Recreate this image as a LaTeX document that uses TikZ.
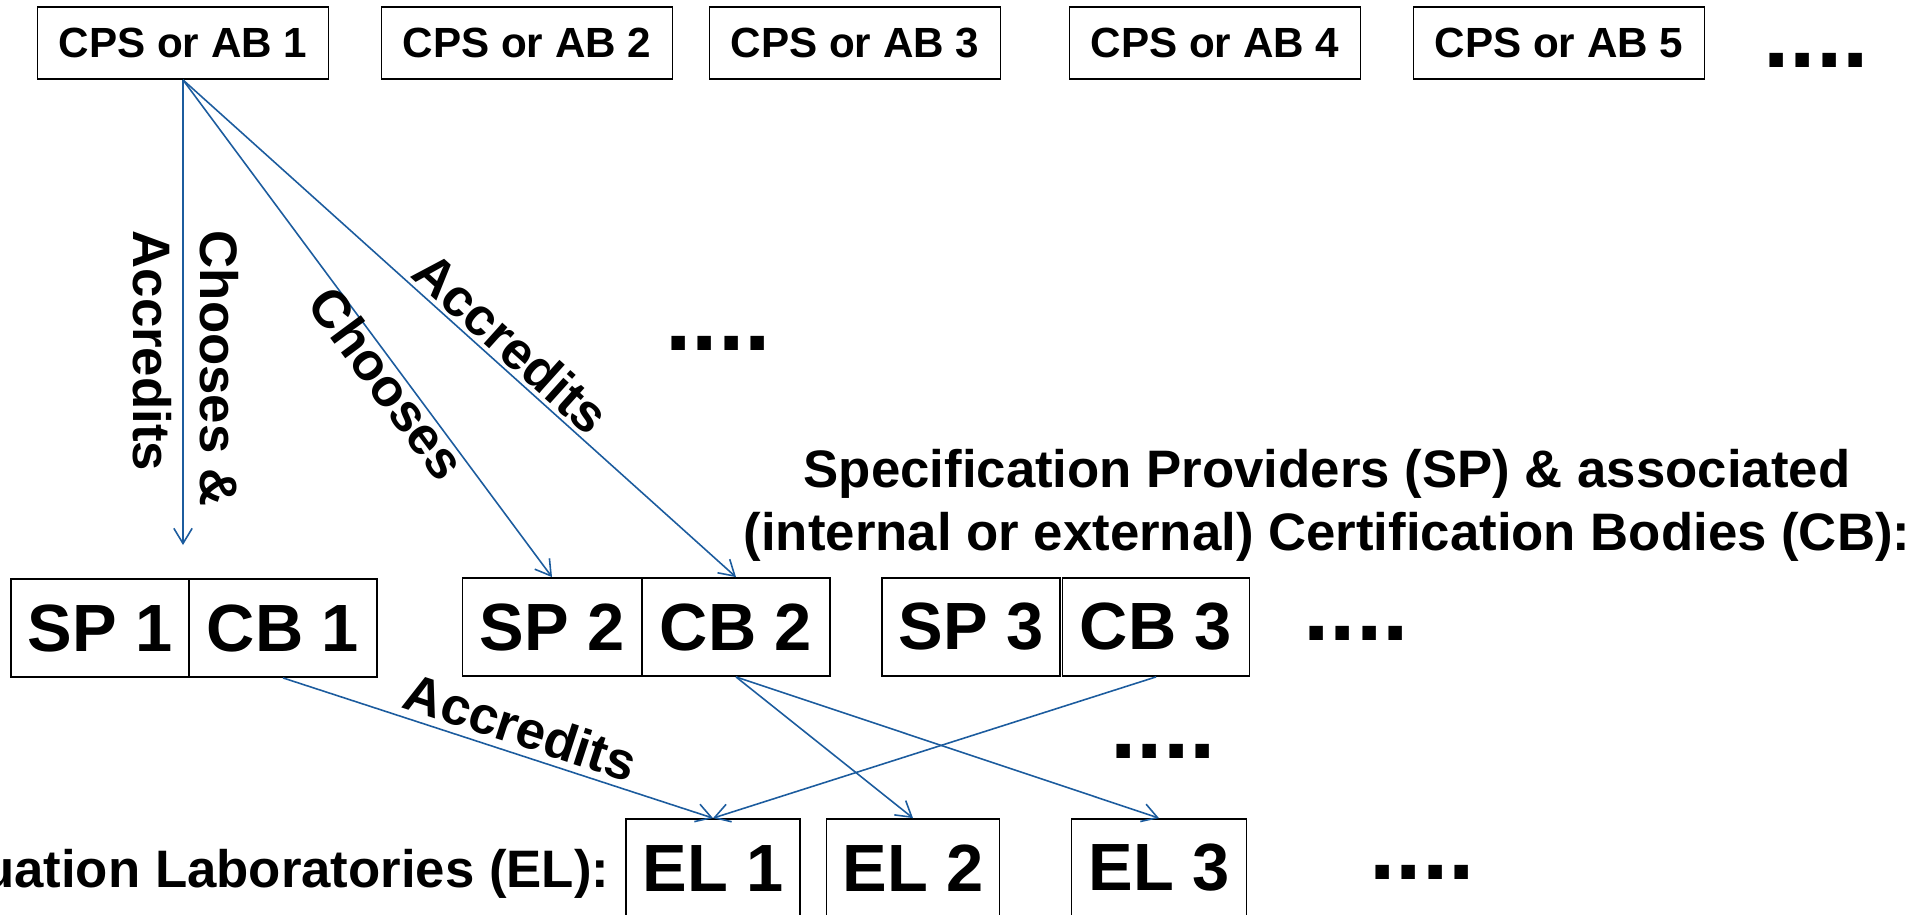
\documentclass[tikz,border=0pt]{standalone}
\usepackage{fontspec}
\setmainfont{Liberation Sans}
\usetikzlibrary{arrows.meta}
\definecolor{linkblue}{RGB}{28,92,158}

\begin{document}
\begin{tikzpicture}[x=0.01cm, y=-0.01cm,
		topbox/.style={draw, line width=0.5pt, minimum width=2.91cm, minimum height=0.72cm, inner sep=0pt, font=\fontsize{12}{14}\selectfont\bfseries},
		bigbox/.style={draw, line width=0.5pt, minimum height=0.98cm, inner sep=0pt, font=\fontsize{19}{22}\selectfont\bfseries},
		lbl/.style={font=\fontsize{15}{18}\selectfont\bfseries},
		dots/.style={anchor=base, inner sep=0pt, font=\fontsize{27}{30}\selectfont\bfseries},
		link/.style={draw=linkblue, line width=0.45pt, -{Straight Barb[length=4.3pt,width=5.2pt]}}]
		%%%%% START %%%%%
		
		\useasboundingbox (0, 0) rectangle (1925, 914);
		
		\node[topbox] (cps1) at (183, 43) {CPS or AB 1};
		\node[topbox] (cps2) at (527, 43) {CPS or AB 2};
		\node[topbox] (cps3) at (855, 43) {CPS or AB 3};
		\node[topbox] (cps4) at (1215, 43) {CPS or AB 4};
		\node[topbox] (cps5) at (1559, 43) {CPS or AB 5};
		\node[dots] (dotstop) at (1816, 67) {....};
		
		\node[dots] (dotsmid) at (718, 350) {....};
		\node[lbl, align=center] (sphead) at (1327, 505) {Specification Providers (SP) \& associated\\(internal or external) Certification Bodies (CB):};
		
		\node[bigbox, minimum width=1.78cm] (sp1) at (100, 628) {SP 1};
		\node[bigbox, minimum width=1.88cm] (cb1) at (283, 628) {CB 1};
		\node[bigbox, minimum width=1.79cm] (sp2) at (552, 627) {SP 2};
		\node[bigbox, minimum width=1.88cm] (cb2) at (736, 627) {CB 2};
		\node[bigbox, minimum width=1.78cm] (sp3) at (971, 627) {SP 3};
		\node[bigbox, minimum width=1.87cm] (cb3) at (1156, 627) {CB 3};
		\node[dots] (dotssp) at (1356, 640) {....};
		
		\node[dots] (dotsel) at (1163, 758) {....};
		
		\node[lbl, anchor=base east, inner sep=0pt] (elhead) at (610, 887) {uation Laboratories (EL):};
		\node[bigbox, minimum width=1.74cm] (el1) at (713, 868) {EL 1};
		\node[bigbox, minimum width=1.73cm] (el2) at (913, 868) {EL 2};
		\node[bigbox, minimum width=1.75cm] (el3) at (1159, 868) {EL 3};
		\node[dots] (dotsbot) at (1422, 879) {....};
		
		\coordinate (drop1) at (183, 545);
		\draw[link] (cps1.south) -- (drop1);
		\node[font=\fontsize{15}{19}\selectfont\bfseries, rotate=-90, align=left, anchor=north west, inner sep=0pt] (chooseacc) at (239, 230) {Chooses \&\\Accredits};
		\draw[link] (cps1.south) -- node[lbl, sloped, below=-1pt, pos=0.59, inner sep=0pt] (choose2) {Chooses} (sp2.north);
		\draw[link] (cps1.south) -- node[lbl, sloped, above, pos=0.565, inner sep=1pt] (accr2) {Accredits} (cb2.north);
		
		\draw[link] (cb1.south) -- node[lbl, sloped, above, pos=0.534, inner sep=2pt] (accr1) {Accredits} (el1.north);
		\draw[link] (cb2.south) -- (el2.north);
		\draw[link] (cb2.south) -- (el3.north);
		\draw[link] (cb3.south) -- (el1.north);
		
		%%%%% END %%%%%
	\end{tikzpicture}
\end{document}
